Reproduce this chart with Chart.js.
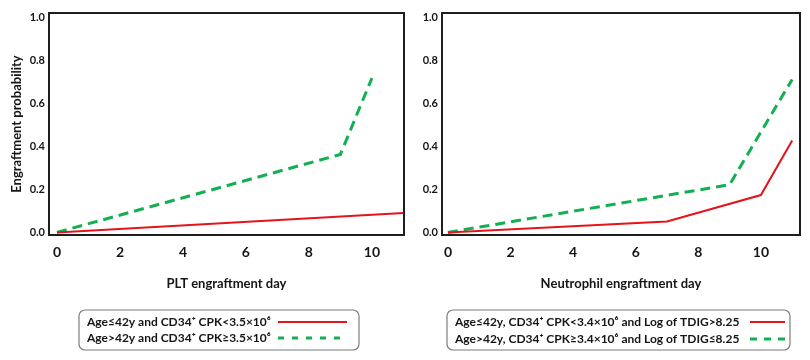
<!DOCTYPE html>
<html>
<head>
<meta charset="utf-8">
<script src="https://cdn.jsdelivr.net/npm/chart.js@4.4.1/dist/chart.umd.min.js"></script>
<style>
  html, body { margin: 0; padding: 0; background: #fff; }
  #wrap { position: relative; width: 810px; height: 360px; }
  #pltChart { position: absolute; left: 0; top: 0; }
  #neuChart { position: absolute; left: 410px; top: 0; }
</style>
</head>
<body>
<div id="wrap">
  <canvas id="pltChart" width="410" height="360"></canvas>
  <canvas id="neuChart" width="400" height="360"></canvas>
</div>
<script>
// axis ticks
const xTicks = [0, 2, 4, 6, 8, 10];
const yTicks = [0, 0.2, 0.4, 0.6, 0.8, 1.0];

// PLT engraftment
const pltLowDays = [0, 11];
const pltLowProb = [0, 0.09];
const pltHighDays = [0, 9, 10];
const pltHighProb = [0, 0.363, 0.718];
const pltLabels = ['Age≤42y and CD34⁺ CPK<3.5×10⁶', 'Age>42y and CD34⁺ CPK≥3.5×10⁶'];

// Neutrophil engraftment
const neuLowDays = [0, 7, 10, 11];
const neuLowProb = [0, 0.051, 0.174, 0.428];
const neuHighDays = [0, 9, 11];
const neuHighProb = [0, 0.222, 0.712];
const neuLabels = ['Age≤42y, CD34⁺ CPK<3.4×10⁶ and Log of TDIG>8.25', 'Age>42y, CD34⁺ CPK≥3.4×10⁶ and Log of TDIG≤8.25'];

const RED = '#e3141c';
const GREEN = '#12b050';
const INK = '#151515';

const toPoints = (xs, ys) => xs.map((x, i) => ({x: x, y: ys[i]}));

// black frame round the plot area
const frame = {
  id: 'frame',
  beforeDatasetsDraw(chart) {
    const a = chart.chartArea;
    const ctx = chart.ctx;
    ctx.save();
    ctx.strokeStyle = '#1e1e1e';
    ctx.lineWidth = 2;
    ctx.strokeRect(a.left, a.top, a.right - a.left, a.bottom - a.top);
    ctx.restore();
  }
};

// boxed legend with the line sample on the right
const boxLegend = {
  id: 'boxLegend',
  afterDraw(chart, args, opts) {
    const ctx = chart.ctx;
    ctx.save();
    ctx.strokeStyle = '#7d7d7d';
    ctx.lineWidth = 1.2;
    ctx.beginPath();
    ctx.roundRect(opts.x, opts.y, opts.w, opts.h, 6);
    ctx.stroke();
    ctx.font = 'bold 12px Lato';
    ctx.fillStyle = INK;
    ctx.textBaseline = 'middle';
    chart.data.datasets.forEach((ds, i) => {
      const y = opts.rows[i];
      ctx.fillText(ds.label, opts.textX, y);
      ctx.strokeStyle = ds.borderColor;
      ctx.lineWidth = ds.borderWidth;
      ctx.setLineDash(opts.dash[i]);
      ctx.beginPath();
      ctx.moveTo(opts.lineX1, y);
      ctx.lineTo(opts.lineX2, y);
      ctx.stroke();
      ctx.setLineDash([]);
    });
    ctx.restore();
  }
};

function makeChart(id, cfg) {
  const ctx = document.getElementById(id).getContext('2d');
  return new Chart(ctx, {
    type: 'line',
    data: {
      datasets: [
        {
          label: cfg.labels[0],
          data: toPoints(cfg.low[0], cfg.low[1]),
          borderColor: RED,
          borderWidth: 2,
          pointRadius: 0,
          tension: 0
        },
        {
          label: cfg.labels[1],
          data: toPoints(cfg.high[0], cfg.high[1]),
          borderColor: GREEN,
          borderWidth: 3,
          borderDash: [10, 6],
          pointRadius: 0,
          tension: 0
        }
      ]
    },
    options: {
      responsive: false,
      animation: false,
      layout: { padding: { left: 0, right: cfg.padRight, top: 13, bottom: 0 } },
      plugins: {
        legend: { display: false },
        tooltip: { enabled: false },
        boxLegend: cfg.legend
      },
      scales: {
        x: {
          type: 'linear',
          min: cfg.xMin,
          max: cfg.xMax,
          afterBuildTicks: s => { s.ticks = xTicks.map(v => ({value: v})); },
          afterFit: s => { s.height = 125; },
          grid: { display: false, drawTicks: false },
          border: { display: false },
          ticks: {
            padding: 9,
            maxRotation: 0,
            color: INK,
            font: { family: 'Lato', size: 14, weight: 'bold' },
            callback: v => v
          },
          title: {
            display: true,
            text: cfg.xTitle,
            color: INK,
            font: { family: 'Lato', size: 13, weight: 'bold' },
            padding: { top: 0, bottom: 68 }
          }
        },
        y: {
          min: -0.012,
          max: 1.021,
          afterBuildTicks: s => { s.ticks = yTicks.map(v => ({value: v})); },
          afterFit: s => { s.width = cfg.yWidth; },
          grid: { display: false, drawTicks: false },
          border: { display: false },
          ticks: {
            padding: 4,
            color: INK,
            font: { family: 'Lato', size: 11, weight: 'bold' },
            callback: v => v.toFixed(1)
          },
          title: {
            display: !!cfg.yTitle,
            text: cfg.yTitle,
            color: INK,
            font: { family: 'Lato', size: 13, weight: 'bold' },
            padding: { top: 9, bottom: 0 }
          }
        }
      }
    },
    plugins: [frame, boxLegend]
  });
}

makeChart('pltChart', {
  labels: pltLabels,
  low: [pltLowDays, pltLowProb],
  high: [pltHighDays, pltHighProb],
  xMin: -0.254,
  xMax: 11.02,
  yWidth: 49,
  padRight: 6,
  xTitle: 'PLT engraftment day',
  yTitle: 'Engraftment probability',
  legend: { x: 79, y: 310, w: 280, h: 40, textX: 87, rows: [322, 338], lineX1: 278, lineX2: 347, dash: [[], [6, 8]] }
});

makeChart('neuChart', {
  labels: neuLabels,
  low: [neuLowDays, neuLowProb],
  high: [neuHighDays, neuHighProb],
  xMin: -0.19,
  xMax: 11.25,
  yWidth: 32,
  padRight: 10,
  xTitle: 'Neutrophil engraftment day',
  yTitle: '',
  legend: { x: 37, y: 310, w: 343, h: 40, textX: 45, rows: [322, 339], lineX1: 340, lineX2: 375, dash: [[], [7, 7]] }
});
</script>
</body>
</html>
